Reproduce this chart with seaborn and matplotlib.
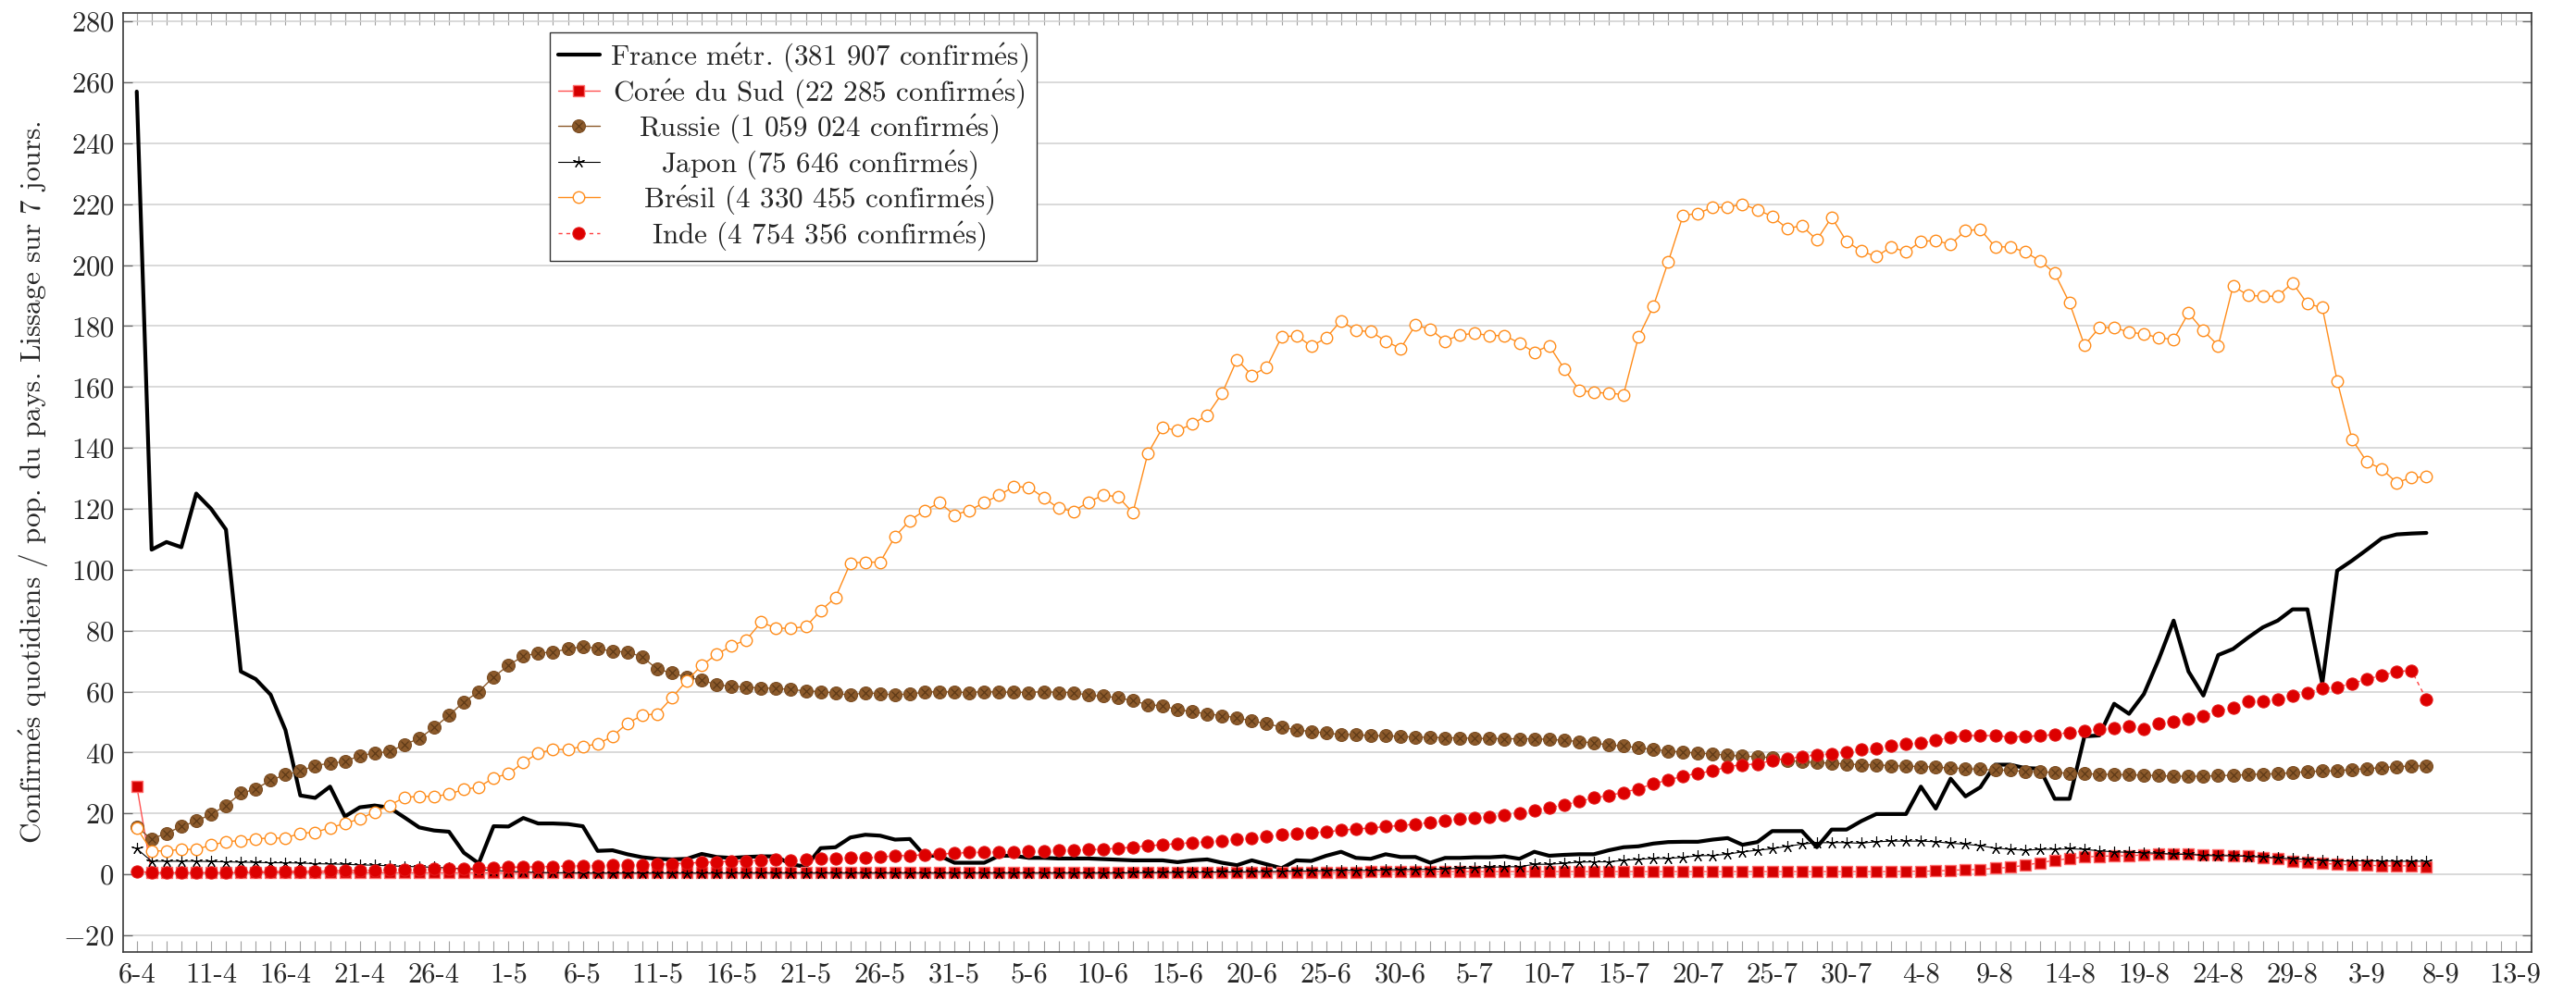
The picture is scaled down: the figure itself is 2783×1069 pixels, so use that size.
import pandas as pd
import matplotlib
matplotlib.use("Agg")
import matplotlib.pyplot as plt
import matplotlib.dates as mdates
from matplotlib.lines import Line2D
from matplotlib.legend_handler import HandlerTuple
from matplotlib.offsetbox import VPacker
import seaborn as sns

# Daily values, 7-day smoothed, one value per day from 6-4 to 7-9 (2020)
start_date = "2020-04-06"

france = [257, 106.6, 109.1, 107.4, 125, 120, 113.2, 66.6, 64.1, 59,
          47.4, 25.9, 25.1, 28.8, 19, 22, 22.6, 21.9, 18.7, 15.4,
          14.4, 14, 7.1, 3.6, 15.8, 15.7, 18.5, 16.7, 16.7, 16.5,
          15.8, 7.7, 7.9, 6.6, 5.6, 5.1, 4.9, 5.1, 6.7, 5.7,
          5.4, 5.7, 5.9, 5.9, 3.3, 2.5, 8.6, 8.9, 12.1, 13,
          12.7, 11.4, 11.6, 6.1, 6.1, 3.8, 3.8, 3.8, 6.1, 6.1,
          5.4, 5.4, 5.2, 5.2, 5.2, 5.0, 4.8, 4.6, 4.6, 4.6,
          4.0, 4.6, 4.9, 3.8, 3.0, 4.6, 3.3, 2.0, 4.6, 4.4,
          6.1, 7.4, 5.4, 5.1, 6.6, 5.7, 5.7, 3.8, 5.4, 5.4,
          5.6, 5.6, 5.9, 5.1, 7.4, 6.1, 6.4, 6.6, 6.6, 7.9,
          8.9, 9.2, 10.1, 10.6, 10.7, 10.7, 11.4, 11.9, 9.7, 10.6,
          14.2, 14.2, 14.2, 8.9, 14.7, 14.7, 17.5, 19.8, 19.8, 19.8,
          28.8, 21.6, 31.4, 25.6, 28.6, 36, 36, 34.9, 34.7, 24.8,
          24.8, 45.3, 45.6, 56, 52.7, 59.2, 70.6, 83.3, 66.6, 58.7,
          72, 74, 77.7, 81.1, 83.3, 87, 87, 62.6, 99.7, 103,
          106.6, 110.3, 111.6, 111.9, 112.1]

coree = [29, 0.5, 0.5, 0.5, 0.5, 0.5, 0.5, 0.5, 0.5, 0.5,
         0.5, 0.5, 0.5, 0.5, 0.5, 0.5, 0.5, 0.5, 0.5, 0.5,
         0.5, 0.5, 0.5, 0.5, 0.5, 0.5, 0.5, 0.5, 0.5, 0.5,
         0.5, 0.5, 0.5, 0.5, 0.5, 0.5, 0.5, 0.5, 0.5, 0.5,
         0.5, 0.6, 0.6, 0.6, 0.6, 0.6, 0.6, 0.6, 0.6, 0.6,
         0.6, 0.6, 0.6, 0.6, 0.6, 0.6, 0.6, 0.6, 0.6, 0.6,
         0.6, 0.6, 0.6, 0.6, 0.6, 0.6, 0.6, 0.6, 0.6, 0.6,
         0.6, 0.6, 0.6, 0.6, 0.6, 0.6, 0.6, 0.6, 0.6, 0.6,
         0.6, 0.6, 0.6, 0.9, 0.9, 0.9, 0.9, 0.9, 0.9, 0.9,
         0.9, 0.9, 0.9, 0.9, 0.9, 0.9, 0.9, 0.9, 0.9, 0.9,
         0.9, 0.9, 0.9, 0.9, 0.9, 0.9, 0.9, 0.9, 0.9, 0.9,
         0.9, 0.9, 0.9, 0.9, 0.9, 0.9, 0.9, 0.9, 0.9, 1.0,
         1.0, 1.1, 1.3, 1.5, 1.6, 2.0, 2.3, 3.0, 3.8, 4.6,
         5.2, 5.7, 5.9, 6.1, 6.1, 6.4, 6.7, 6.7, 6.7, 6.4,
         6.4, 6.2, 6.2, 5.6, 5.1, 4.4, 4.0, 3.6, 3.3, 3.1,
         3.0, 2.8, 2.8, 2.8, 2.6]

russie = [15.5, 11.6, 13.5, 15.7, 17.5, 19.7, 22.6, 26.6, 28, 30.9,
          32.7, 33.9, 35.7, 36.5, 37, 39, 39.8, 40.3, 42.6, 44.6,
          48.2, 52.2, 56.6, 60, 64.8, 68.6, 71.7, 72.6, 73, 74,
          74.8, 74.2, 73.2, 73, 71.4, 67.4, 66.1, 64.7, 63.8, 62.2,
          61.8, 61.4, 61.2, 61, 60.7, 60.2, 60, 59.5, 58.8, 59.7,
          59.2, 59, 59.2, 59.8, 60, 59.8, 59.7, 60, 59.8, 59.8,
          59.7, 60, 59.7, 59.7, 58.8, 58.5, 58, 57, 55.7, 55.3,
          54.1, 53.4, 52.7, 52.1, 51.4, 50.4, 49.4, 48.4, 47.4, 46.9,
          46.4, 45.9, 45.9, 45.5, 45.5, 45.3, 45, 45, 44.8, 44.8,
          44.6, 44.6, 44.5, 44.5, 44.5, 44.3, 44, 43.6, 43.1, 42.5,
          42.1, 41.6, 41, 40.5, 40.1, 39.8, 39.5, 39.1, 38.8, 38.6,
          38.3, 37.4, 37, 36.7, 36.5, 36.2, 36, 35.9, 35.7, 35.5,
          35.4, 35.2, 34.9, 34.7, 34.5, 34.2, 34.2, 33.7, 33.7, 33.4,
          33.2, 33, 32.9, 32.7, 32.7, 32.5, 32.4, 32.2, 32.2, 32.2,
          32.4, 32.5, 32.7, 32.9, 33, 33.4, 33.7, 33.9, 34, 34.4,
          34.7, 35, 35.4, 35.5, 35.7]

japon = [8.4, 4.3, 4.3, 4.3, 4.3, 4.2, 4.1, 4.0, 3.9, 3.8,
         3.8, 3.7, 3.5, 3.4, 3.3, 3.1, 3.0, 2.8, 2.6, 2.5,
         2.3, 2.1, 1.8, 1.5, 1.3, 1.0, 0.8, 0.6, 0.5, 0.5,
         0.4, 0.4, 0.4, 0.4, 0.4, 0.4, 0.4, 0.4, 0.4, 0.4,
         0.4, 0.4, 0.4, 0.4, 0.4, 0.4, 0.4, 0.4, 0.4, 0.4,
         0.4, 0.4, 0.4, 0.4, 0.4, 0.4, 0.4, 0.4, 0.4, 0.4,
         0.4, 0.4, 0.4, 0.4, 0.4, 0.4, 0.4, 0.5, 0.5, 0.6,
         0.6, 0.7, 0.7, 0.8, 0.8, 0.9, 0.9, 1.0, 1.1, 1.1,
         1.2, 1.3, 1.3, 1.3, 1.5, 1.5, 1.6, 1.6, 1.8, 2.0,
         2.1, 2.3, 2.5, 2.5, 3.3, 3.3, 3.6, 4.0, 4.1, 4.1,
         4.6, 4.9, 5.2, 5.2, 5.6, 6.1, 6.2, 6.6, 7.4, 7.9,
         8.4, 9.2, 9.9, 10.4, 10.4, 10.4, 10.2, 10.7, 10.9, 10.9,
         10.9, 10.7, 10.2, 9.9, 9.4, 8.6, 8.2, 7.9, 8.2, 8.2,
         8.4, 8.2, 7.7, 7.4, 7.2, 7.1, 6.9, 6.6, 6.6, 6.2,
         6.1, 6.1, 5.9, 5.7, 5.4, 5.1, 4.9, 4.6, 4.4, 4.4,
         4.4, 4.4, 4.3, 4.3, 4.3]

bresil = [15.2, 7.7, 7.7, 8.2, 8.2, 9.6, 10.7, 11.1, 11.7, 11.9,
          11.9, 13.5, 13.8, 15.3, 16.7, 18.2, 20.5, 22.6, 25.3, 25.6,
          25.6, 26.3, 27.9, 28.6, 31.7, 33, 36.7, 39.8, 41, 41,
          42, 42.8, 45.3, 49.6, 52.2, 52.7, 58, 63.6, 68.6, 72.2,
          75, 77, 82.8, 80.8, 80.8, 81.3, 86.6, 90.9, 102.2, 102.5,
          102.5, 110.9, 116.2, 119.5, 122, 118, 119.5, 122, 124.5, 127.3,
          127.1, 123.7, 120.2, 119.2, 122.2, 124.5, 124, 118.7, 138.1, 146.7,
          145.7, 147.8, 150.8, 157.9, 169, 163.8, 166.5, 176.4, 176.9, 173.4,
          176.1, 181.8, 178.5, 178.2, 175.1, 172.6, 180.3, 179, 175.1, 177.1,
          177.6, 176.9, 176.9, 174.4, 171.4, 173.6, 166, 159, 158.2, 158,
          157.5, 176.4, 186.4, 201, 216.3, 217, 219, 219, 220, 218.2,
          216, 212.1, 212.9, 208.3, 215.7, 207.8, 204.6, 202.8, 206, 204.3,
          207.8, 208.1, 206.8, 211.4, 211.7, 206, 206, 204.3, 201.5, 197.4,
          187.6, 173.7, 179.5, 179.5, 178, 177.4, 176.2, 175.6, 184.3, 178.5,
          173.6, 193.2, 190.1, 189.8, 189.8, 194.2, 187.3, 186.1, 162, 142.8,
          135.4, 133.1, 128.6, 130.3, 130.5]

inde = [1.0, 0.5, 0.5, 0.6, 0.6, 0.7, 0.7, 0.8, 0.8, 0.9,
        0.9, 1.0, 1.0, 1.1, 1.2, 1.2, 1.3, 1.4, 1.5, 1.6,
        1.7, 1.8, 1.9, 2.1, 2.2, 2.3, 2.4, 2.5, 2.6, 2.7,
        2.8, 2.9, 3.0, 3.1, 3.2, 3.3, 3.5, 3.7, 3.9, 4.1,
        4.3, 4.4, 4.7, 4.9, 4.7, 4.9, 5.1, 5.1, 5.4, 5.4,
        5.7, 6.1, 6.2, 6.4, 6.7, 6.9, 7.2, 7.2, 7.4, 7.4,
        7.6, 7.7, 7.9, 7.9, 8.1, 8.2, 8.6, 8.9, 9.4, 9.7,
        10.1, 10.4, 10.7, 11.1, 11.7, 11.9, 12.4, 13, 13.5, 13.7,
        13.9, 14.5, 14.9, 15.2, 15.7, 16, 16.5, 17, 17.5, 18.2,
        18.5, 19, 19.5, 20.2, 21.1, 21.9, 22.8, 23.9, 25.1, 25.9,
        26.9, 28.1, 29.7, 31, 32.2, 33.2, 33.9, 35.4, 36, 36.2,
        37.4, 38, 38.6, 39.3, 39.5, 40.1, 41.1, 41.3, 42.1, 42.8,
        43, 44, 45, 45.5, 45.6, 45.5, 45.1, 45.3, 45.5, 45.9,
        46.6, 47.1, 47.6, 47.9, 48.6, 47.7, 49.6, 50.2, 50.9, 51.9,
        53.7, 54.8, 56.8, 56.7, 57.3, 58.5, 59.7, 61, 61.5, 62.6,
        64.1, 65.3, 66.6, 66.9, 57.5]

# the accented e is drawn with mathtext so it stays in Computer Modern
E_ACUTE = r"$\mathrm{\acute{e}}$"
labels = ["France m%str. (381 907 confirm%ss)" % (E_ACUTE, E_ACUTE),
          "Cor%se du Sud (22 285 confirm%ss)" % (E_ACUTE, E_ACUTE),
          "Russie (1 059 024 confirm%ss)" % E_ACUTE,
          "Japon (75 646 confirm%ss)" % E_ACUTE,
          "Br%ssil (4 330 455 confirm%ss)" % (E_ACUTE, E_ACUTE),
          "Inde (4 754 356 confirm%ss)" % E_ACUTE]
y_label = "Confirm%ss quotidiens / pop. du pays. Lissage sur 7 jours." % E_ACUTE

tick_labels = ["6-4", "11-4", "16-4", "21-4", "26-4", "1-5", "6-5", "11-5",
               "16-5", "21-5", "26-5", "31-5", "5-6", "10-6", "15-6", "20-6",
               "25-6", "30-6", "5-7", "10-7", "15-7", "20-7", "25-7", "30-7",
               "4-8", "9-8", "14-8", "19-8", "24-8", "29-8", "3-9", "8-9", "13-9"]
y_ticks = list(range(-20, 281, 20))

dates = pd.date_range(start_date, periods=len(france), freq="D")
tick_dates = pd.date_range(start_date, periods=len(tick_labels), freq="5D")

sns.set_theme(style="white")
plt.rcParams['font.family'] = ['cmr10', 'DejaVu Serif']
plt.rcParams['mathtext.fontset'] = 'cm'
plt.rcParams['axes.formatter.use_mathtext'] = True
plt.rcParams['axes.unicode_minus'] = True

fig, ax = plt.subplots(figsize=(27.83, 10.69), dpi=100)
fig.subplots_adjust(left=0.0478, right=0.9828, top=0.9869, bottom=0.0374)

# style of each series (pgfplots look)
st_france = dict(color="black", linewidth=3.0)
st_coree = dict(color="#ff5050", linewidth=1.0, marker="s", markersize=9,
                markerfacecolor="#d40000", markeredgecolor="#ff6a6a", markeredgewidth=1.0)
st_russie = dict(color="#8c5a2b", linewidth=1.0, marker="o", markersize=10,
                 markerfacecolor="#8c5a2b", markeredgecolor="#7a4c22", markeredgewidth=0.8)
st_russie_x = dict(color="#5e3a17", linestyle="None", marker="x", markersize=6,
                   markeredgecolor="#5e3a17", markeredgewidth=0.9)
st_japon = dict(color="black", linewidth=0.8, marker=(5, 2, 0), markersize=9,
                markeredgecolor="black", markeredgewidth=0.8)
st_bresil = dict(color="#ff8c1a", linewidth=1.0, marker="o", markersize=9,
                 markerfacecolor="white", markeredgecolor="#ff8c1a", markeredgewidth=1.0)
st_inde = dict(color="#ff4040", linewidth=1.0, linestyle=(0, (3, 3)), marker="o",
               markersize=9.5, markerfacecolor="#dd0000", markeredgecolor="#e41a1a",
               markeredgewidth=0.8)

kw = dict(ax=ax, estimator=None, sort=False)
series = [(france, st_france), (coree, st_coree), (russie, st_russie),
          (russie, st_russie_x), (japon, st_japon), (bresil, st_bresil), (inde, st_inde)]
for values, style in series:
    sns.lineplot(x=dates, y=values, **kw)
    ax.lines[-1].set(**style)

# axes limits and ticks
ax.set_xlim(pd.Timestamp(start_date) - pd.Timedelta(hours=22),
            tick_dates[-1] + pd.Timedelta(hours=26))
ax.set_ylim(-25.5, 282.8)
ax.set_xticks(tick_dates)
ax.set_xticklabels(tick_labels)
ax.xaxis.set_minor_locator(mdates.DayLocator())
ax.set_yticks(y_ticks)

ax.tick_params(axis='x', which='both', direction='in', top=True, bottom=True,
               length=9, width=0.8, color='#a0a0a0', labelsize=22, pad=8)
ax.tick_params(axis='y', which='major', direction='in', left=True, right=True,
               length=7, width=0.9, color='#666666', labelsize=22, pad=7)

ax.grid(axis='y', color='#cfcfcf', linewidth=1.1)
ax.grid(axis='x', visible=False)
for s in ax.spines.values():
    s.set_color('#3a3a3a')
    s.set_linewidth(1.2)

ax.set_xlabel("")
ax.set_ylabel(y_label, fontsize=22.5)
ax.yaxis.set_label_coords(-0.0305, 0.5)

# legend built from proxies with the same styles
proxies = [Line2D([], [], **st_france), Line2D([], [], **st_coree),
           (Line2D([], [], **st_russie), Line2D([], [], **st_russie_x)),
           Line2D([], [], **st_japon), Line2D([], [], **st_bresil),
           Line2D([], [], **st_inde)]
leg = ax.legend(proxies, labels, handler_map={tuple: HandlerTuple(ndivide=1, pad=0)},
                loc='upper left', bbox_to_anchor=(0.177, 0.979), borderaxespad=0,
                fontsize=22.4, numpoints=1, handlelength=1.45, handletextpad=0.35,
                labelspacing=0.1, borderpad=0.3, fancybox=False, framealpha=1,
                edgecolor='#333333')
leg.get_frame().set_linewidth(1.0)

# centre the legend texts, handles stay on the left (as in pgfplots)
try:
    fig.canvas.draw()
    renderer = fig.canvas.get_renderer()
    rows = leg._legend_handle_box.get_children()[0].get_children()
    wmax = max(r.get_children()[1].get_bbox(renderer).width for r in rows)
    for r in rows:
        h, t = r.get_children()
        box = VPacker(pad=0, sep=0, width=wmax, align='center', children=[t])
        r._children = [h, box]
except Exception as e:
    print("legend centering skipped:", e)

fig.savefig("out.png", dpi=100)
